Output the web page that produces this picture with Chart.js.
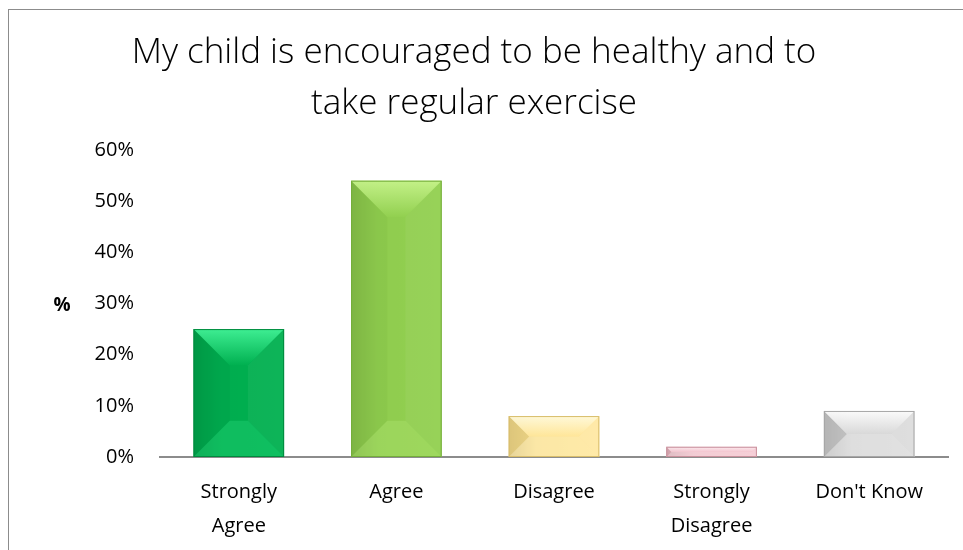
<!DOCTYPE html>
<html>
<head>
<meta charset="utf-8">
<script src="https://cdn.jsdelivr.net/npm/chart.js"></script>
<style>
  html, body { margin: 0; padding: 0; background: #fff; }
  #wrap { position: relative; width: 963px; height: 550px; }
  #frame { position: absolute; left: 8px; top: 9px; right: -5px; bottom: -5px;
           border: 1px solid #8c8c8c; pointer-events: none; }
</style>
</head>
<body>
<div id="wrap">
  <canvas id="chart" width="963" height="550"></canvas>
  <div id="frame"></div>
</div>
<script>
// chart data
var titleLines = ['My child is encouraged to be healthy and to', 'take regular exercise'];
var categories = [['Strongly', 'Agree'], 'Agree', 'Disagree', ['Strongly', 'Disagree'], "Don't Know"];
var percentages = [25, 54, 8, 2, 9];
var yTicks = [0, 10, 20, 30, 40, 50, 60];

// bar colours: base, dark edge, light bevel
var barColors = ['#00b050', '#92d050', '#ffe699', '#f4c6d0', '#d9d9d9'];
var barDark = ['#008a3e', '#74ad3a', '#d8bd6a', '#c9909c', '#a6a6a6'];
var barLight = ['#45f59a', '#c9f58e', '#fffbe0', '#fdf0f3', '#ffffff'];

// bevel look drawn over each bar element
var bevelBars = {
    id: 'bevelBars',
    afterDatasetsDraw: function(chart) {
        var ctx = chart.ctx;
        var meta = chart.getDatasetMeta(0);
        meta.data.forEach(function(bar, i) {
            var x0 = bar.x - bar.width / 2;
            var x1 = bar.x + bar.width / 2;
            var y0 = bar.y;
            var y1 = bar.base;
            var h = y1 - y0;
            var b = Math.min(h / 2, bar.width * 0.4);
            // side bevels fade out on tall bars
            var sideA = h < bar.width ? 1 : 0.35;

            ctx.save();
            // horizontal shading, darker on the left
            var g = ctx.createLinearGradient(x0, 0, x1, 0);
            g.addColorStop(0, 'rgba(0,0,0,0.12)');
            g.addColorStop(0.3, 'rgba(0,0,0,0.02)');
            g.addColorStop(1, 'rgba(0,0,0,0)');
            ctx.fillStyle = g;
            ctx.fillRect(x0, y0, x1 - x0, h);

            // left bevel
            ctx.globalAlpha = 0.4 * sideA;
            ctx.fillStyle = barDark[i];
            ctx.beginPath();
            ctx.moveTo(x0, y0); ctx.lineTo(x0 + b, y0 + b);
            ctx.lineTo(x0 + b, y1 - b); ctx.lineTo(x0, y1);
            ctx.closePath(); ctx.fill();

            // right bevel
            ctx.globalAlpha = 0.15 * sideA;
            ctx.fillStyle = '#ffffff';
            ctx.beginPath();
            ctx.moveTo(x1, y0); ctx.lineTo(x1 - b, y0 + b);
            ctx.lineTo(x1 - b, y1 - b); ctx.lineTo(x1, y1);
            ctx.closePath(); ctx.fill();

            // top bevel
            var gt = ctx.createLinearGradient(0, y0, 0, y0 + b);
            gt.addColorStop(0, barLight[i]);
            gt.addColorStop(1, barColors[i]);
            ctx.globalAlpha = 0.9;
            ctx.fillStyle = gt;
            ctx.beginPath();
            ctx.moveTo(x0, y0); ctx.lineTo(x1, y0);
            ctx.lineTo(x1 - b, y0 + b); ctx.lineTo(x0 + b, y0 + b);
            ctx.closePath(); ctx.fill();

            // bottom bevel
            ctx.globalAlpha = 0.22;
            ctx.fillStyle = barLight[i];
            ctx.beginPath();
            ctx.moveTo(x0, y1); ctx.lineTo(x1, y1);
            ctx.lineTo(x1 - b, y1 - b); ctx.lineTo(x0 + b, y1 - b);
            ctx.closePath(); ctx.fill();

            // outline
            ctx.globalAlpha = 1;
            ctx.strokeStyle = barDark[i];
            ctx.lineWidth = 1;
            ctx.strokeRect(x0 + 0.5, y0 + 0.5, x1 - x0 - 1, h - 1);
            ctx.restore();
        });

        // "%" axis label, horizontal like the original
        var yScale = chart.scales.y;
        ctx.save();
        ctx.font = 'bold 19px "Open Sans"';
        ctx.fillStyle = '#000';
        ctx.textAlign = 'center';
        ctx.textBaseline = 'middle';
        ctx.fillText('%', 62, yScale.getPixelForValue(30) + 2);
        ctx.restore();
    }
};

new Chart(document.getElementById('chart'), {
    type: 'bar',
    data: {
        labels: categories,
        datasets: [{
            data: percentages,
            backgroundColor: barColors,
            borderWidth: 0,
            categoryPercentage: 1,
            barPercentage: 0.575
        }]
    },
    options: {
        responsive: false,
        animation: false,
        layout: { padding: { left: 0, right: 15, top: 0, bottom: 0 } },
        scales: {
            x: {
                grid: { display: false, drawTicks: false },
                border: { display: true, color: '#8c8c8c', width: 2 },
                ticks: {
                    color: '#000',
                    padding: 18,
                    maxRotation: 0,
                    font: { family: 'Open Sans', size: 20, lineHeight: '34px' }
                },
                afterFit: function(s) { s.height = 93; }
            },
            y: {
                min: 0,
                max: 60,
                afterBuildTicks: function(s) {
                    s.ticks = yTicks.map(function(v) { return { value: v }; });
                },
                grid: { display: false, drawTicks: false },
                border: { display: false },
                ticks: {
                    color: '#000',
                    padding: 26,
                    font: { family: 'Open Sans', size: 20 },
                    callback: function(v) { return v + '%'; }
                },
                afterFit: function(s) { s.width = 160; }
            }
        },
        plugins: {
            legend: { display: false },
            tooltip: { enabled: false },
            title: {
                display: true,
                text: titleLines,
                color: '#000',
                padding: { top: 28, bottom: 20 },
                font: { family: 'Open Sans', size: 35, weight: '300', lineHeight: '51px' }
            }
        }
    },
    plugins: [bevelBars]
});
</script>
</body>
</html>
